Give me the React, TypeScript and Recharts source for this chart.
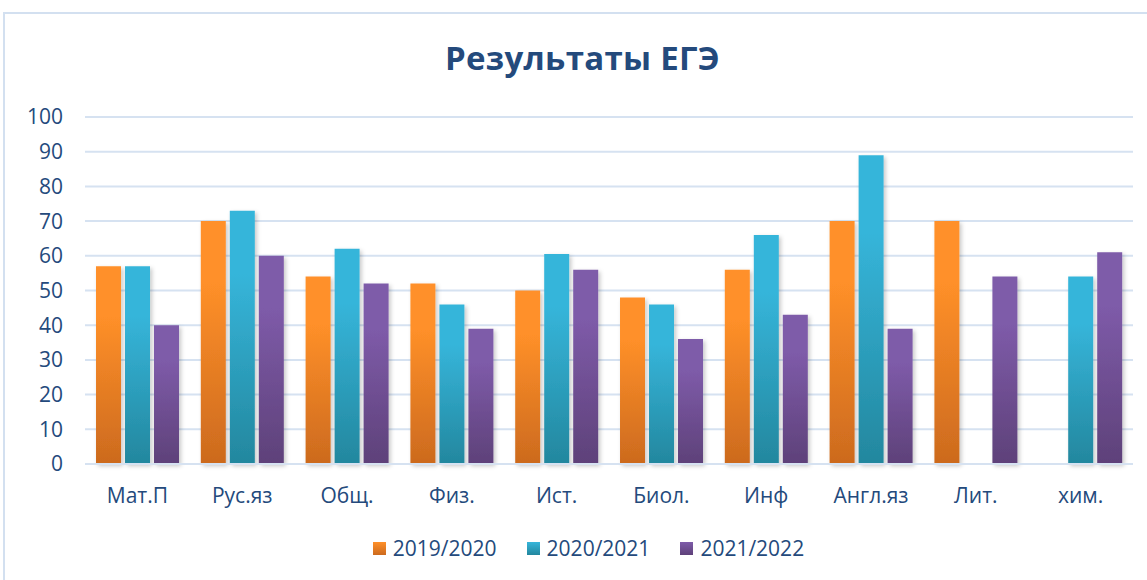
import React from 'react';
import { BarChart, Bar, XAxis, YAxis, CartesianGrid, Legend } from 'recharts';

const subjects = ['Мат.П', 'Рус.яз', 'Общ.', 'Физ.', 'Ист.', 'Биол.', 'Инф', 'Англ.яз', 'Лит.', 'хим.'];
const y2019: (number | null)[] = [57, 70, 54, 52, 50, 48, 56, 70, 70, null];
const y2020: (number | null)[] = [57, 73, 62, 46, 60.5, 46, 66, 89, null, 54];
const y2021: (number | null)[] = [40, 60, 52, 39, 56, 36, 43, 39, 54, 61];
const yTicks = [0, 10, 20, 30, 40, 50, 60, 70, 80, 90, 100];

const series = [
  { key: 'a', name: '2019/2020', values: y2019, top: '#FF9029', bottom: '#CC6A1E' },
  { key: 'b', name: '2020/2021', values: y2020, top: '#36B5DA', bottom: '#23879E' },
  { key: 'c', name: '2021/2022', values: y2021, top: '#7E5BA9', bottom: '#5E4179' },
];

const data = subjects.map((name, i) => ({
  name,
  a: y2019[i],
  b: y2020[i],
  c: y2021[i],
}));

const FONT = '"Open Sans", sans-serif';
const TEXT = '#244a7c';

const LegendBox = () => (
  <div style={{ height: 30, paddingLeft: 30, display: 'flex', justifyContent: 'center', alignItems: 'center', fontFamily: FONT, fontSize: 21, color: TEXT }}>
    {series.map((s) => (
      <div key={s.key} style={{ display: 'flex', alignItems: 'center', margin: '0 15px' }}>
        <span style={{ width: 13, height: 13, marginRight: 7, background: `linear-gradient(${s.top}, ${s.bottom})` }} />
        <span>{s.name}</span>
      </div>
    ))}
  </div>
);

export default function App() {
  return (
    <div style={{ position: 'relative', width: 1147, height: 580, overflow: 'hidden', background: '#fff' }}>
      <style>{'body{margin:0}'}</style>
      <div style={{ position: 'absolute', left: 3, top: 12, width: 1300, height: 700, border: '2px solid #d3e0f0' }} />
      <div style={{ position: 'absolute', left: 9, top: 35, width: 1147, textAlign: 'center', fontFamily: FONT, fontWeight: 700, fontSize: 33, color: TEXT, letterSpacing: 0.3 }}>
        Результаты ЕГЭ
      </div>
      <div style={{ position: 'absolute', left: 0, top: 0 }}>
        <BarChart
          width={1147}
          height={580}
          data={data}
          margin={{ top: 117, right: 14, left: 25, bottom: 56 }}
          barCategoryGap="10.5%"
          barGap={4}
        >
          <defs>
            {series.map((s) => (
              <linearGradient key={s.key} id={`grad-${s.key}`} x1="0" y1="0" x2="0" y2="1">
                <stop offset="0%" stopColor={s.top} />
                <stop offset="25%" stopColor={s.top} />
                <stop offset="100%" stopColor={s.bottom} />
              </linearGradient>
            ))}
            <filter id="shadow" x="-20%" y="-5%" width="150%" height="115%">
              <feDropShadow dx="2" dy="2" stdDeviation="2" floodColor="#000" floodOpacity="0.22" />
            </filter>
          </defs>
          <CartesianGrid vertical={false} stroke="#d6e2f1" strokeWidth={2} />
          <XAxis
            dataKey="name"
            height={30}
            tickLine={false}
            tickSize={0}
            tickMargin={24}
            axisLine={{ stroke: '#d6e2f1', strokeWidth: 2 }}
            tick={{ fill: TEXT, fontSize: 21, fontFamily: FONT }}
          />
          <YAxis
            width={60}
            domain={[0, 100]}
            ticks={yTicks}
            interval={0}
            tickLine={false}
            axisLine={false}
            tickSize={0}
            tickMargin={22}
            tick={{ fill: TEXT, fontSize: 21, fontFamily: FONT }}
          />
          <Legend content={<LegendBox />} wrapperStyle={{ top: 533, left: 0, width: 1147 }} />
          {series.map((s) => (
            <Bar
              key={s.key}
              dataKey={s.key}
              name={s.name}
              fill={`url(#grad-${s.key})`}
              filter="url(#shadow)"
              isAnimationActive={false}
            />
          ))}
        </BarChart>
      </div>
    </div>
  );
}
